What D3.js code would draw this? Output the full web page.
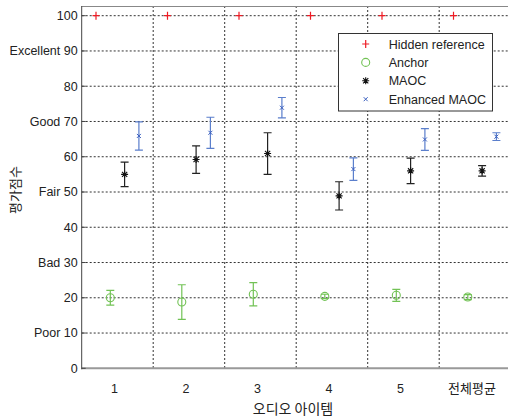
<!DOCTYPE html>
<html><head><meta charset="utf-8">
<script src="https://cdn.jsdelivr.net/npm/d3@7"></script>
<style>
html,body{margin:0;padding:0;background:#fff;}
svg{display:block;}
text{font-family:"Liberation Sans",Arial,sans-serif;fill:#222;}
.kr{font-family:"Noto Sans CJK KR","Noto Sans",sans-serif;}
</style></head><body>
<svg id="c" width="508" height="419"></svg>
<script>
// ---- data ----
const categories = ["1","2","3","4","5","전체평균"];
const yTicks = [0,10,20,30,40,50,60,70,80,90,100];
const yTickLabels = ["0","Poor 10","20","Bad 30","40","Fair 50","60","Good 70","80","Excellent 90","100"];
const seriesNames = ["Hidden reference","Anchor","MAOC","Enhanced MAOC"];
const hiddenMean = [100,100,100,100,100,100];
const hiddenErr  = [0,0,0,0,0,0];
const anchorMean = [20.0,18.8,21.0,20.4,20.7,20.2];
const anchorErr  = [2.1,4.9,3.3,0.6,1.7,0.7];
const maocMean   = [55.0,59.2,60.9,48.9,56.0,56.0];
const maocErr    = [3.5,3.9,5.9,4.0,3.6,1.5];
const enhMean    = [65.9,66.8,73.9,56.5,64.9,65.7];
const enhErr     = [4.0,4.4,2.9,3.2,3.1,1.1];

const series = [
  {name:seriesNames[0], mean:hiddenMean, err:hiddenErr, color:"#ee1c25", bar:"#ee1c25", marker:"plus", off:-0.3},
  {name:seriesNames[1], mean:anchorMean, err:anchorErr, color:"#72c255", bar:"#72c255", marker:"circle", off:-0.1},
  {name:seriesNames[2], mean:maocMean,   err:maocErr,   color:"#111", bar:"#222", marker:"star", off:0.1},
  {name:seriesNames[3], mean:enhMean,    err:enhErr,    color:"#3a5fbf", bar:"#5b7fcc", marker:"x", off:0.3}
];

// ---- layout ----
const svg = d3.select("#c");
const L = 81.7, B = 368.3, T = 6;
const x = d3.scaleLinear().domain([0.5, 6.5]).range([L, L + 6*71.5]);
const y = d3.scaleLinear().domain([0, 100]).range([B, 15.7]);
const yTop = y.invert(T);

// grid
const g = svg.append("g");
g.selectAll(".hg").data(yTicks.filter(d=>d>0)).enter().append("line")
  .attr("x1", L).attr("x2", 508).attr("y1", d=>y(d)).attr("y2", d=>y(d))
  .attr("stroke","#333").attr("stroke-width",1).attr("stroke-dasharray","2,2");
g.selectAll(".vg").data(d3.range(1.5, 6.0, 1)).enter().append("line")
  .attr("x1", d=>x(d)).attr("x2", d=>x(d)).attr("y1", y(yTop)).attr("y2", B)
  .attr("stroke","#333").attr("stroke-width",1).attr("stroke-dasharray","2,2");

// frame
svg.append("line").attr("x1",L).attr("x2",508).attr("y1",T+0.5).attr("y2",T+0.5).attr("stroke","#888").attr("stroke-width",1);
svg.append("line").attr("x1",L).attr("x2",508).attr("y1",B).attr("y2",B).attr("stroke","#999").attr("stroke-width",2);
svg.append("line").attr("x1",L).attr("x2",L).attr("y1",T).attr("y2",B+1).attr("stroke","#444").attr("stroke-width",1);

// y ticks
const ya = svg.append("g");
yTicks.forEach((t,i)=>{
  ya.append("line").attr("x1",L).attr("x2",L+4).attr("y1",y(t)).attr("y2",y(t)).attr("stroke","#444");
  ya.append("text").attr("x",L-4).attr("y",y(t)).attr("dy","0.35em").attr("text-anchor","end")
    .attr("font-size","12.5px").text(yTickLabels[i]);
});
// x tick labels
categories.forEach((c,i)=>{
  svg.append("text").attr("class", i===5?"kr":null).attr("x", x(i+1)-3).attr("y", 393)
    .attr("text-anchor","middle").attr("font-size", i===5?"13px":"12.5px").text(c);
});
// axis titles
svg.append("text").attr("class","kr").attr("x",293).attr("y",414).attr("text-anchor","middle")
  .attr("font-size","14px").text("오디오 아이템");
svg.append("text").attr("class","kr").attr("transform","translate(20,190) rotate(-90)")
  .attr("text-anchor","middle").attr("font-size","13px").text("평가점수");

// markers
function drawMarker(sel, type, cx, cy, color, s){
  s = s || 1;
  if(type==="plus"){
    sel.append("path").attr("d",`M${cx-3.5*s},${cy}H${cx+3.5*s}M${cx},${cy-4*s}V${cy+4*s}`).attr("stroke",color).attr("stroke-width",1.2).attr("fill","none");
  } else if(type==="circle"){
    sel.append("circle").attr("cx",cx).attr("cy",cy).attr("r",4*s).attr("stroke",color).attr("stroke-width",1.1).attr("fill","none");
  } else if(type==="star"){
    const a=3.5*s, b=2.6*s;
    sel.append("path").attr("d",`M${cx-a},${cy}H${cx+a}M${cx},${cy-a}V${cy+a}M${cx-b},${cy-b}L${cx+b},${cy+b}M${cx-b},${cy+b}L${cx+b},${cy-b}`)
      .attr("stroke",color).attr("stroke-width",1.1).attr("fill","none");
  } else if(type==="x"){
    const a=2*s;
    sel.append("path").attr("d",`M${cx-a},${cy-a}L${cx+a},${cy+a}M${cx-a},${cy+a}L${cx+a},${cy-a}`)
      .attr("stroke",color).attr("stroke-width",1).attr("fill","none");
  }
}

const pts = svg.append("g");
series.forEach(s=>{
  s.mean.forEach((m,i)=>{
    const cx = x(i+1+s.off);
    const e = s.err[i];
    if(e>0){
      const y1=y(m+e), y2=y(m-e), w=4;
      pts.append("path").attr("d",`M${cx},${y1}V${y2}M${cx-w},${y1}H${cx+w}M${cx-w},${y2}H${cx+w}`)
        .attr("stroke",s.bar).attr("stroke-width",1.2).attr("fill","none");
    }
    drawMarker(pts, s.marker, cx, y(m), s.color);
  });
});

// legend
const lg = svg.append("g");
lg.append("rect").attr("x",338.5).attr("y",33.5).attr("width",154).attr("height",77.5)
  .attr("fill","#fff").attr("stroke","#333").attr("stroke-width",1);
series.forEach((s,i)=>{
  const ly = 44 + i*18.4;
  drawMarker(lg, s.marker, 365.7, ly, s.color);
  lg.append("text").attr("x",388.7).attr("y",ly).attr("dy","0.36em").attr("font-size","12.5px").text(s.name);
});
</script>
</body></html>
